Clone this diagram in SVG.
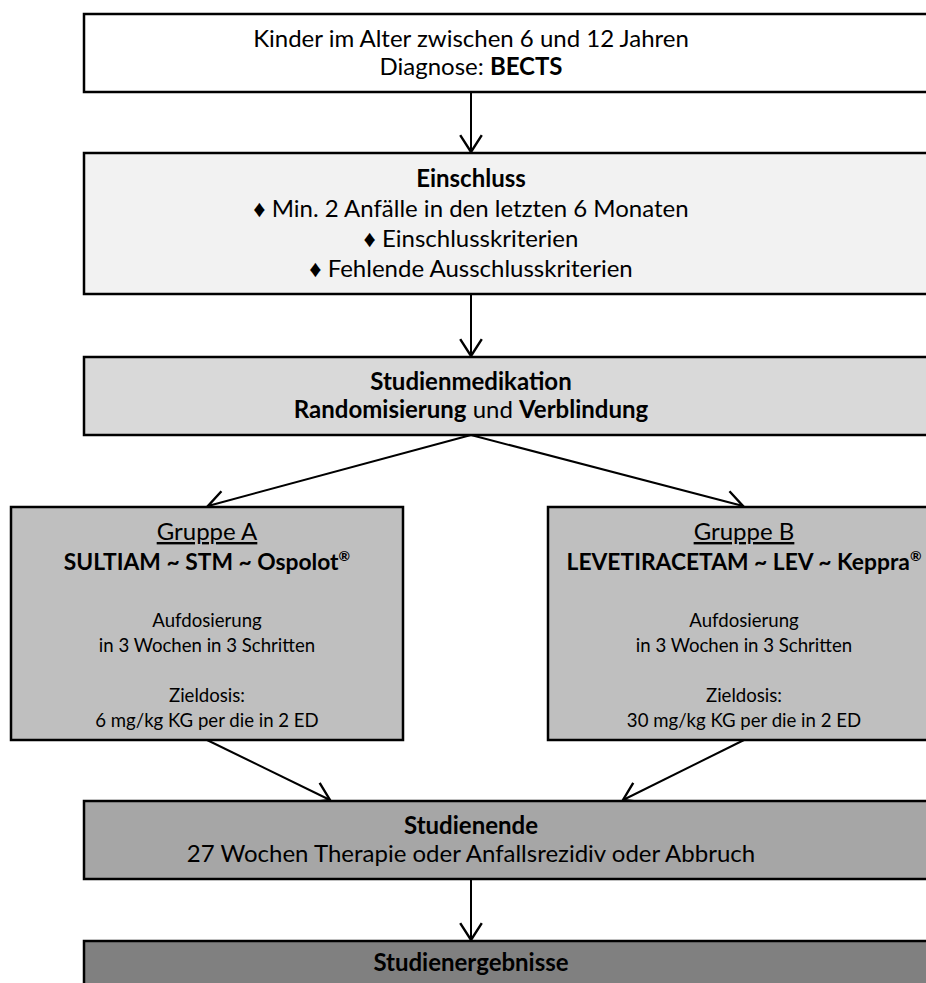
<svg xmlns="http://www.w3.org/2000/svg" width="926" height="983" viewBox="0 0 926 983">
<style>
  .box { stroke: #000; stroke-width: 2.5; }
  text { font-family: Lato, "Liberation Sans", "DejaVu Sans", sans-serif; fill: #000; text-anchor: middle; }
  .m { font-size: 24px; }
  .s { font-size: 18.6px; }
  .h { font-size: 24px; }
  .t { font-size: 22.8px; font-weight: bold; }
  .b { font-weight: bold; }
  .u { text-decoration: underline; }
  .conn { stroke: #000; stroke-width: 2; fill: none; marker-end: url(#arr); }
</style>
<defs>
  <marker id="arr" markerUnits="userSpaceOnUse" markerWidth="24" markerHeight="24" refX="16" refY="10" orient="auto" viewBox="0 0 20 20">
    <path d="M2,1 L16,10 L2,19" fill="none" stroke="#000" stroke-width="2"/>
  </marker>
</defs>
<rect width="926" height="983" fill="#fff"/>
<g id="connectors">
  <line class="conn" x1="471" y1="92" x2="471" y2="152"/>
  <line class="conn" x1="471" y1="294" x2="471" y2="356"/>
  <line class="conn" x1="471" y1="435" x2="208" y2="506"/>
  <line class="conn" x1="471" y1="435" x2="743" y2="506"/>
  <line class="conn" x1="207" y1="740" x2="330" y2="800"/>
  <line class="conn" x1="744" y1="740" x2="623" y2="800"/>
  <line class="conn" x1="471" y1="879" x2="471" y2="940"/>
</g>
<g id="start">
  <rect class="box" x="84" y="14" width="860" height="78" fill="#ffffff"/>
  <text class="m" x="471" y="47">Kinder im Alter zwischen 6 und 12 Jahren</text>
  <text class="m" x="471" y="75">Diagnose: <tspan class="b">BECTS</tspan></text>
</g>
<g id="einschluss">
  <rect class="box" x="84" y="153" width="860" height="141" fill="#f2f2f2"/>
  <text class="m b" x="471" y="187">Einschluss</text>
  <text class="m" x="471" y="217">♦ Min. 2 Anfälle in den letzten 6 Monaten</text>
  <text class="m" x="471" y="247">♦ Einschlusskriterien</text>
  <text class="m" x="471" y="277">♦ Fehlende Ausschlusskriterien</text>
</g>
<g id="studienmedikation">
  <rect class="box" x="84" y="357" width="860" height="78" fill="#d9d9d9"/>
  <text class="m b" x="471" y="390">Studienmedikation</text>
  <text class="m" x="471" y="418"><tspan class="b">Randomisierung</tspan> und <tspan class="b">Verblindung</tspan></text>
</g>
<g id="gruppeA">
  <rect class="box" x="11" y="507" width="392" height="233" fill="#bfbfbf"/>
  <text class="h u" x="207" y="540">Gruppe A</text>
  <text class="t" x="207" y="570">SULTIAM ~ STM ~ Ospolot<tspan font-size="14" dy="-9">®</tspan></text>
  <text class="s" x="207" y="627">Aufdosierung</text>
  <text class="s" x="207" y="652">in 3 Wochen in 3 Schritten</text>
  <text class="s" x="207" y="702">Zieldosis:</text>
  <text class="s" x="207" y="727">6 mg/kg KG per die in 2 ED</text>
</g>
<g id="gruppeB">
  <rect class="box" x="548" y="507" width="392" height="233" fill="#bfbfbf"/>
  <text class="h u" x="744" y="540">Gruppe B</text>
  <text class="t" x="744" y="570">LEVETIRACETAM ~ LEV ~ Keppra<tspan font-size="14" dy="-9">®</tspan></text>
  <text class="s" x="744" y="627">Aufdosierung</text>
  <text class="s" x="744" y="652">in 3 Wochen in 3 Schritten</text>
  <text class="s" x="744" y="702">Zieldosis:</text>
  <text class="s" x="744" y="727">30 mg/kg KG per die in 2 ED</text>
</g>
<g id="studienende">
  <rect class="box" x="84" y="801" width="860" height="78" fill="#a6a6a6"/>
  <text class="m b" x="471" y="834">Studienende</text>
  <text class="m" x="471" y="862">27 Wochen Therapie oder Anfallsrezidiv oder Abbruch</text>
</g>
<g id="studienergebnisse">
  <rect class="box" x="84" y="941" width="860" height="60" fill="#808080"/>
  <text class="m b" x="471" y="971">Studienergebnisse</text>
</g>
</svg>
